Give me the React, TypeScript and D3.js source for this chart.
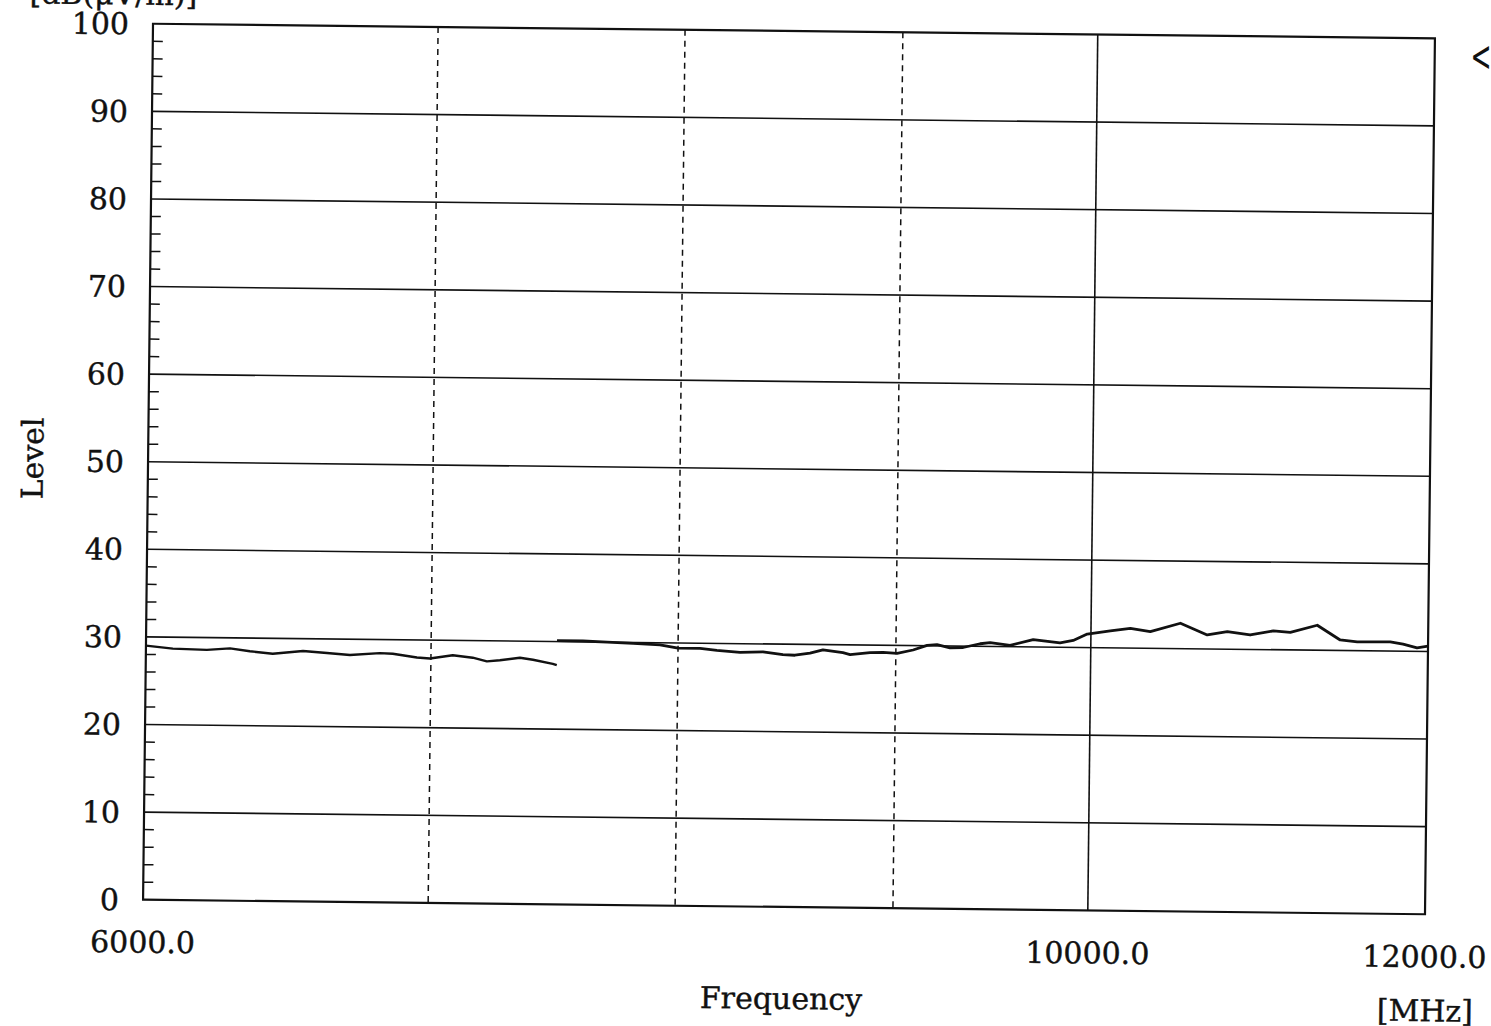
import React from "react";
import * as d3 from "d3";

// Segment 1 (low band) frequency [MHz] and level [dB(uV/m)]
const freq1: number[] = [6000, 6088, 6201, 6279, 6347, 6426, 6532, 6617, 6700, 6809, 6857, 6947, 6996, 7083, 7160, 7215, 7266, 7345, 7397, 7477, 7493];
const level1: number[] = [29.0, 28.7, 28.6, 28.8, 28.5, 28.25, 28.6, 28.4, 28.2, 28.45, 28.4, 28.0, 27.9, 28.3, 28.05, 27.65, 27.8, 28.1, 27.9, 27.45, 27.3];

// Segment 2 (high band)
const freq2: number[] = [7493, 7599, 7699, 7808, 7922, 8000, 8096, 8170, 8273, 8376, 8467, 8522, 8592, 8652, 8746, 8780, 8875, 8938, 9006, 9084, 9153, 9202, 9267, 9333, 9419, 9470, 9573, 9693, 9835, 9905, 9980, 10105, 10215, 10326, 10495, 10649, 10765, 10899, 11036, 11138, 11301, 11443, 11549, 11757, 11839, 11929, 12000];
const level2: number[] = [30.1, 30.1, 30.0, 29.9, 29.75, 29.4, 29.4, 29.2, 29.0, 29.1, 28.8, 28.75, 29.0, 29.4, 29.1, 28.9, 29.15, 29.2, 29.1, 29.5, 30.05, 30.15, 29.8, 29.85, 30.3, 30.45, 30.15, 30.85, 30.5, 30.8, 31.55, 31.95, 32.25, 31.9, 32.9, 31.6, 32.0, 31.65, 32.15, 32.0, 32.85, 31.2, 31.0, 31.05, 30.8, 30.4, 30.6];

const yMajorTicks: number[] = [0, 10, 20, 30, 40, 50, 60, 70, 80, 90, 100];
const xDashedGrid: number[] = [7000, 8000, 9000];
const xSolidGrid: number[] = [10000];
const xTickLabels: { v: number; label: string }[] = [
  { v: 6000, label: "6000.0" },
  { v: 10000, label: "10000.0" },
  { v: 12000, label: "12000.0" },
];

export default function App() {
  const L = 148, R = 1430, T = 31, B = 907;
  const x = d3.scaleLog().domain([6000, 12000]).range([L, R]);
  const y = d3.scaleLinear().domain([0, 100]).range([B, T]);
  const minor = d3.range(0, 101, 2).filter((v) => v % 10 !== 0);

  const line = d3
    .line<[number, number]>()
    .x((d) => x(d[0]))
    .y((d) => y(d[1]));
  const seg1 = line(freq1.map((f, i) => [f, level1[i]] as [number, number])) || "";
  const seg2 = line(freq2.map((f, i) => [f, level2[i]] as [number, number])) || "";

  const font = "'DejaVu Serif', serif";
  const fs = 30;
  const ts = { stroke: "#111", strokeWidth: 0.4 } as const;

  return (
    <svg
      width={1491}
      height={1026}
      style={{ position: "absolute", left: 0, top: 0, background: "#fff" }}
    >
      <rect x={0} y={0} width={1491} height={1026} fill="#fff" />
      <g transform="rotate(0.65, 789, 469)" fontFamily={font} fill="#111">
        <text x={192} y={12} fontSize={fs} textAnchor="end" {...ts}>[dB(μV/m)]</text>

        {/* horizontal gridlines */}
        {yMajorTicks
          .filter((v) => v > 0 && v < 100)
          .map((v) => (
            <line key={"h" + v} x1={L} x2={R} y1={y(v)} y2={y(v)} stroke="#111" strokeWidth={1.6} />
          ))}
        {/* vertical gridlines */}
        {xDashedGrid.map((v) => (
          <line key={"vd" + v} x1={x(v)} x2={x(v)} y1={T} y2={B} stroke="#111" strokeWidth={1.5} strokeDasharray="6,5" />
        ))}
        {xSolidGrid.map((v) => (
          <line key={"vs" + v} x1={x(v)} x2={x(v)} y1={T} y2={B} stroke="#111" strokeWidth={1.6} />
        ))}
        {/* minor ticks */}
        {minor.map((v) => (
          <line key={"m" + v} x1={L} x2={L + 10} y1={y(v)} y2={y(v)} stroke="#111" strokeWidth={1.5} />
        ))}
        {/* frame */}
        <rect x={L} y={T} width={R - L} height={B - T} fill="none" stroke="#111" strokeWidth={2.2} />

        {/* data */}
        <path d={seg1} fill="none" stroke="#111" strokeWidth={2.4} strokeLinejoin="round" />
        <path d={seg2} fill="none" stroke="#111" strokeWidth={2.8} strokeLinejoin="round" />

        {/* y tick labels */}
        {yMajorTicks.map((v) => (
          <text key={"yl" + v} x={124} y={y(v)} dy="0.36em" fontSize={fs} textAnchor="end" {...ts}>
            {v}
          </text>
        ))}
        {/* x tick labels */}
        {xTickLabels.map((t) => (
          <text key={"xl" + t.v} x={x(t.v)} y={960} fontSize={fs} textAnchor="middle" {...ts}>
            {t.label}
          </text>
        ))}
        <text x={787} y={1009} fontSize={fs} textAnchor="middle" {...ts}>Frequency</text>
        <text x={1431} y={1014} fontSize={fs} textAnchor="middle" {...ts}>[MHz]</text>
        <text transform="translate(43,467) rotate(-90)" fontSize={fs} textAnchor="middle" {...ts}>Level</text>
      </g>
      <text x={1481} y={71} fontSize={42} textAnchor="middle" fontFamily="'DejaVu Sans', sans-serif" fill="#111" transform="translate(1481,59) scale(0.6,1) translate(-1481,-59)">&lt;</text>
    </svg>
  );
}
